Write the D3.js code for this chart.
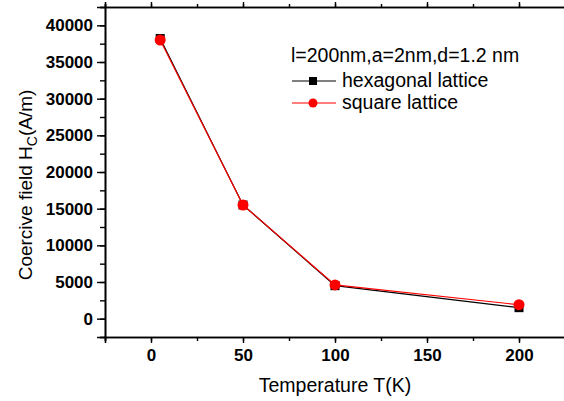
<!DOCTYPE html>
<html>
<head>
<meta charset="utf-8">
<script src="https://cdn.jsdelivr.net/npm/d3@7"></script>
<style>
  body { margin: 0; background: #fff; }
  svg { display: block; font-family: "Liberation Sans", Arial, sans-serif; }
</style>
</head>
<body>
<svg class="chart" width="564" height="401"></svg>
<script>
// temperatures (K) and coercive field (A/m)
var temps     = [5, 50, 100, 200]
var hexValues = [38200, 15500, 4500, 1500]
var sqValues  = [38000, 15500, 4600, 1900]

var xTicks = [0, 50, 100, 150, 200]
var yTicks = [0, 5000, 10000, 15000, 20000, 25000, 30000, 35000, 40000]

var legendTitle = "l=200nm,a=2nm,d=1.2 nm"
var seriesNames = ["hexagonal lattice", "square lattice"]

var plotLeft = 105, plotRight = 565, plotTop = 7, plotBottom = 337

var svg = d3.select(".chart")

var x = d3.scaleLinear().domain([-25, 225]).range([plotLeft, plotRight])
var y = d3.scaleLinear().domain([-2500, 42500]).range([plotBottom, plotTop])

// minor ticks first, then the labelled axes
svg.append("g")
  .attr("transform", "translate(0," + plotBottom + ")")
  .call(d3.axisBottom(x).tickValues(d3.range(-25, 226, 25)).tickSize(4).tickFormat(""))
svg.append("g")
  .attr("transform", "translate(" + plotLeft + ",0)")
  .call(d3.axisLeft(y).tickValues(d3.range(-2500, 42501, 2500)).tickSize(5).tickFormat(""))
svg.append("g")
  .attr("transform", "translate(0," + plotTop + ")")
  .call(d3.axisTop(x).tickValues(d3.range(-25, 226, 25)).tickSize(3).tickFormat(""))

svg.append("g")
  .attr("transform", "translate(0," + plotBottom + ")")
  .call(d3.axisBottom(x).tickValues(xTicks).tickSize(6).tickPadding(6).tickFormat(d3.format("d")))
svg.append("g")
  .attr("transform", "translate(" + plotLeft + ",0)")
  .call(d3.axisLeft(y).tickValues(yTicks).tickSize(8).tickPadding(4).tickFormat(d3.format("d")))
svg.append("g")
  .attr("transform", "translate(0," + plotTop + ")")
  .call(d3.axisTop(x).tickValues(xTicks).tickSize(5).tickFormat(""))

svg.selectAll("g").attr("font-family", null)
svg.selectAll(".domain").attr("stroke", "#000").attr("stroke-width", 1.6)
svg.selectAll(".tick line").attr("stroke", "#000").attr("stroke-width", 1.4)
svg.selectAll(".tick text")
  .attr("fill", "#000")
  .style("font-size", "17px")
  .style("font-weight", "bold")
  .style("font-family", "'Liberation Sans', Arial, sans-serif")

// lines
var hexData = temps.map(function(t, i) { return [t, hexValues[i]] })
var sqData  = temps.map(function(t, i) { return [t, sqValues[i]] })

var line = d3.line()
  .x(function(d) { return x(d[0]) })
  .y(function(d) { return y(d[1]) })

svg.append("path").datum(hexData)
  .attr("d", line).attr("fill", "none").attr("stroke", "#000").attr("stroke-width", 1.2)

svg.selectAll(".hex").data(hexData).enter().append("rect")
  .attr("x", function(d) { return x(d[0]) - 4.5 })
  .attr("y", function(d) { return y(d[1]) - 4.5 })
  .attr("width", 9).attr("height", 9).attr("fill", "#000")

svg.append("path").datum(sqData)
  .attr("d", line).attr("fill", "none").attr("stroke", "#f00").attr("stroke-width", 1.2)

svg.selectAll(".sq").data(sqData).enter().append("circle")
  .attr("cx", function(d) { return x(d[0]) })
  .attr("cy", function(d) { return y(d[1]) })
  .attr("r", 5.5).attr("fill", "#f00")

// axis titles
svg.append("text")
  .attr("x", 335).attr("y", 392)
  .attr("text-anchor", "middle")
  .style("font-size", "19.5px")
  .text("Temperature T(K)")

var yt = svg.append("text")
  .attr("transform", "translate(32,185) rotate(-90)")
  .attr("text-anchor", "middle")
  .style("font-size", "19px")
yt.append("tspan").text("Coercive field H")
yt.append("tspan").attr("dy", 5).style("font-size", "14px").text("C")
yt.append("tspan").attr("dy", -5).text("(A/m)")

// legend
var lg = svg.append("g")
lg.append("text").attr("x", 291).attr("y", 62).style("font-size", "19.5px").text(legendTitle)

var colors = ["#000", "#f00"]
seriesNames.forEach(function(name, i) {
  var ly = 81 + i * 22
  lg.append("line").attr("x1", 292).attr("x2", 336).attr("y1", ly).attr("y2", ly)
    .attr("stroke", colors[i]).attr("stroke-width", 1.2)
  if (i == 0) {
    lg.append("rect").attr("x", 309).attr("y", ly - 4).attr("width", 8).attr("height", 8).attr("fill", "#000")
  } else {
    lg.append("circle").attr("cx", 313).attr("cy", ly).attr("r", 4.5).attr("fill", "#f00")
  }
  lg.append("text").attr("x", 342).attr("y", ly + 6).style("font-size", "19.5px").text(name)
})
</script>
</body>
</html>
